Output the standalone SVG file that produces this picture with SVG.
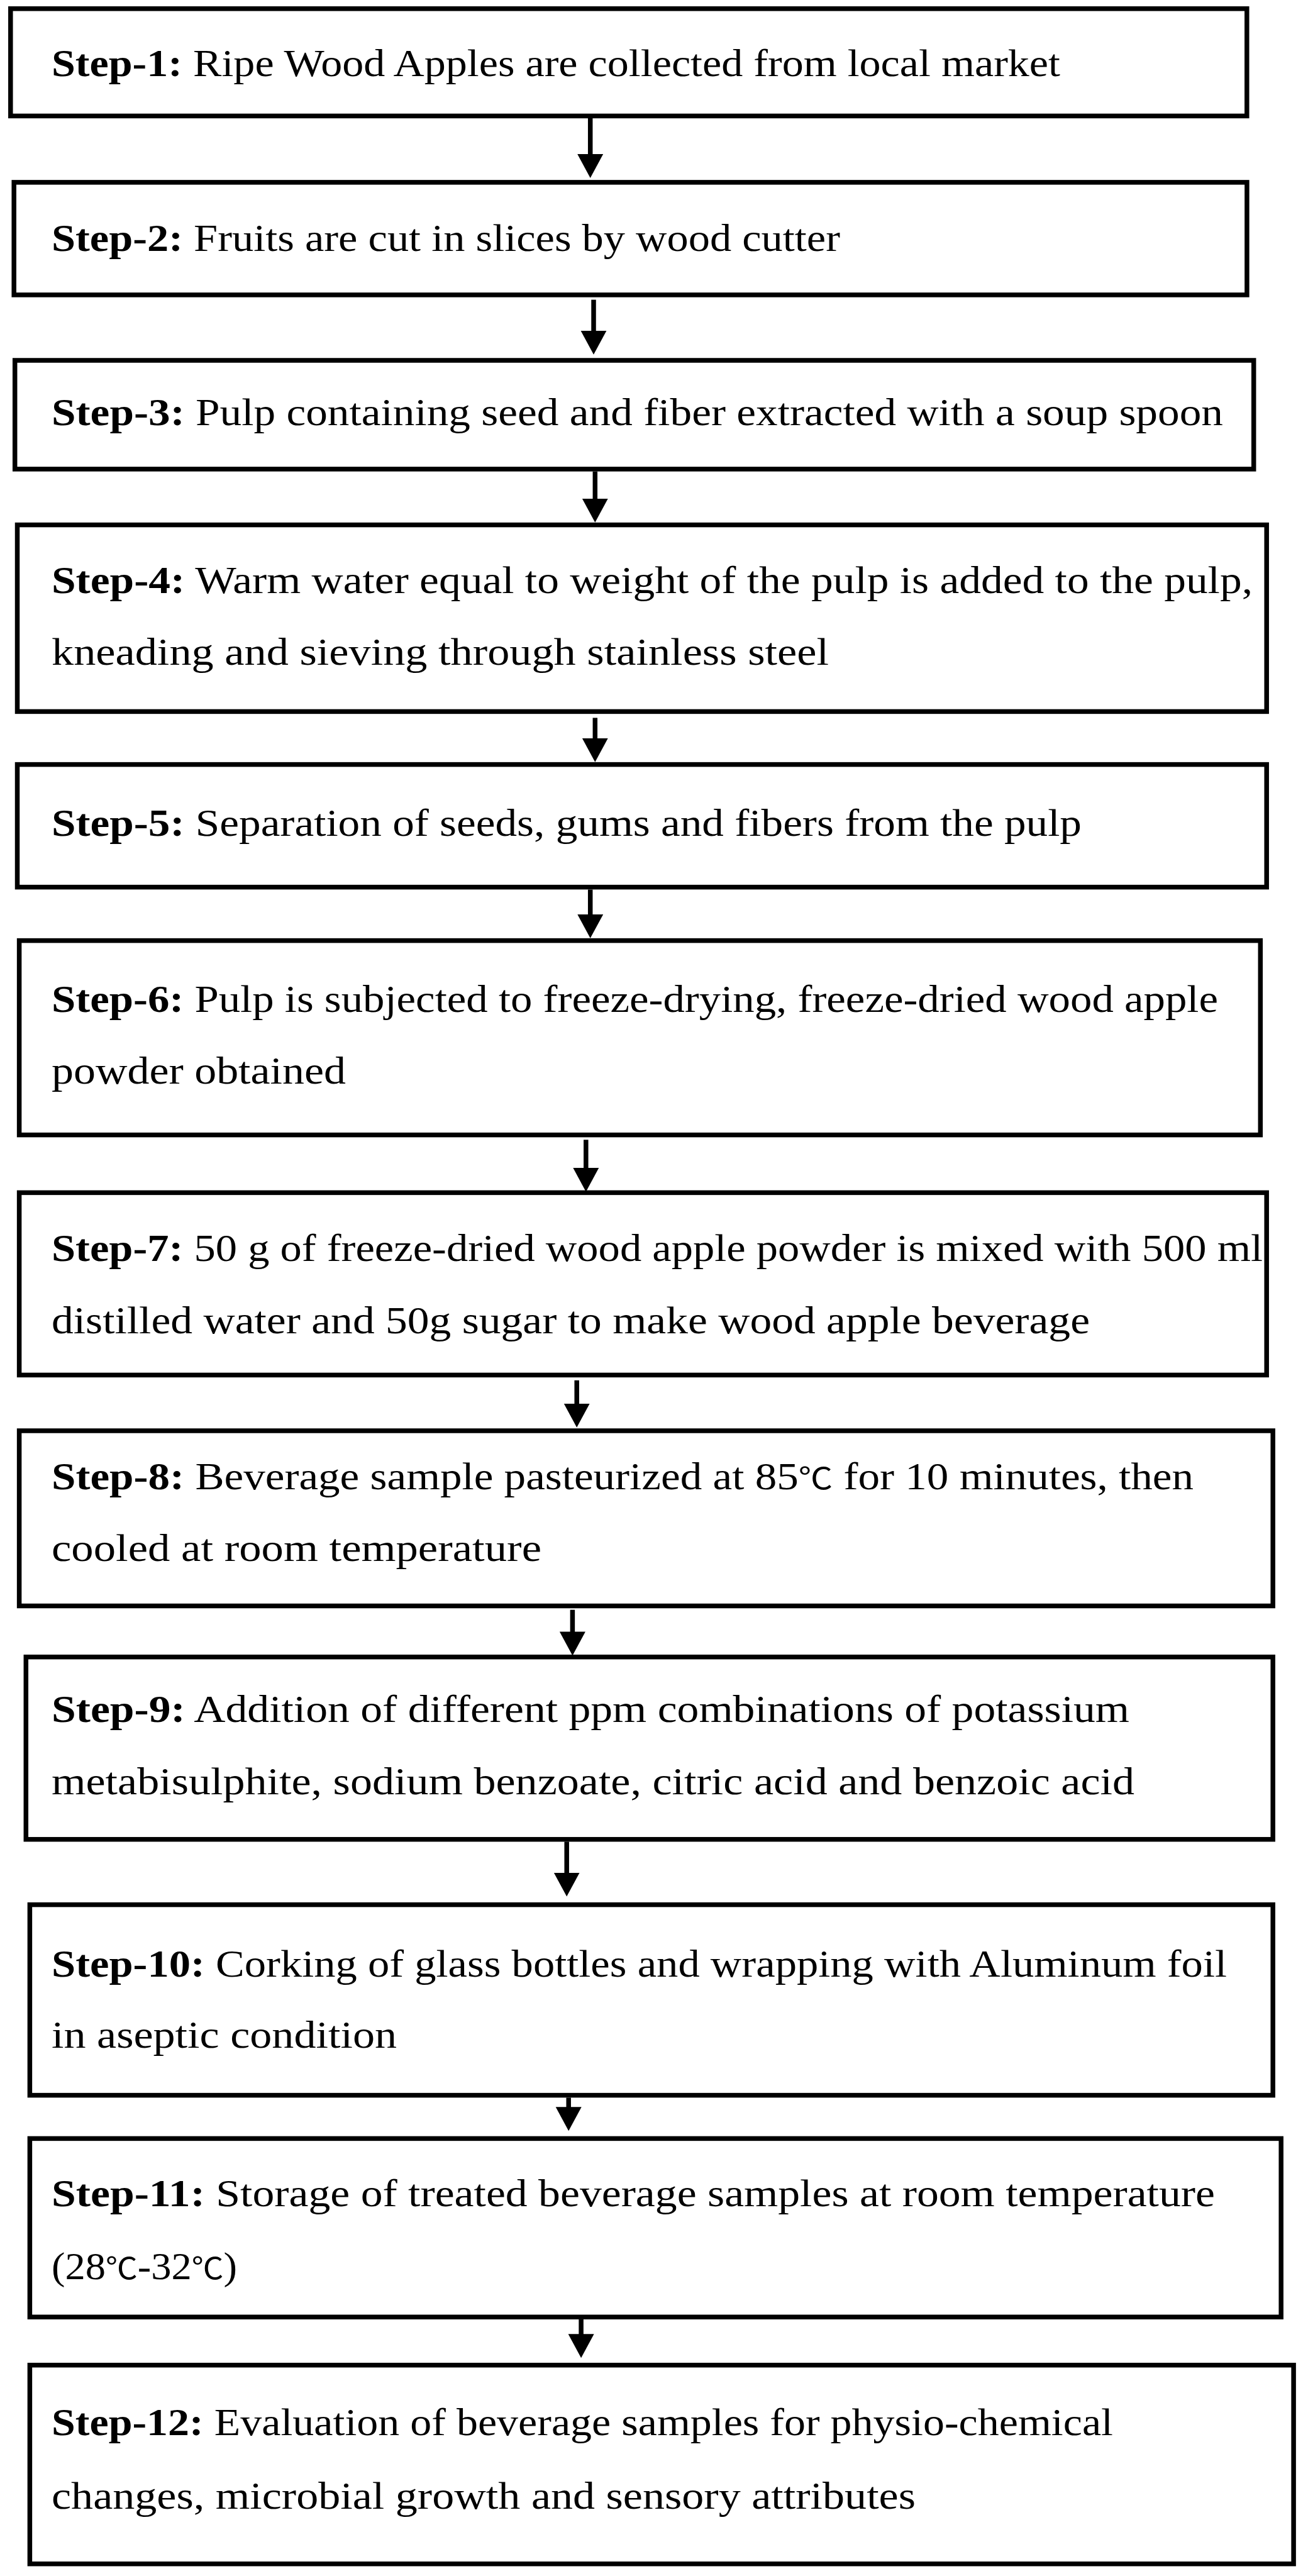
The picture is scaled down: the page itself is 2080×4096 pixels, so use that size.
<svg xmlns="http://www.w3.org/2000/svg" width="2080" height="4096" viewBox="0 0 2080 4096">
<style>
.box{fill:#fff;stroke:#000;stroke-width:7.5}
.t{font-family:"Liberation Serif","DejaVu Serif","Noto Sans CJK SC",serif;font-size:61px;fill:#000}
.b{font-weight:bold}
.deg{font-family:"Noto Sans CJK SC","DejaVu Sans",sans-serif;font-size:48px}
.c{stroke:#000;stroke-width:7.5;fill:none}
</style>
<defs>
<marker id="ah" markerUnits="userSpaceOnUse" markerWidth="40" markerHeight="42" refX="18" refY="20.5" orient="auto">
<path d="M0,0 L38,20.5 L0,41 z" fill="#000"/>
</marker>
</defs>
<rect width="2080" height="4096" fill="#fff"/>
<g id="connectors">
<line class="c" x1="938.7" y1="187.4" x2="938.7" y2="263" marker-end="url(#ah)"/>
<line class="c" x1="944" y1="476.6" x2="944" y2="543.8" marker-end="url(#ah)"/>
<line class="c" x1="946.3" y1="749.7" x2="946.3" y2="810.8" marker-end="url(#ah)"/>
<line class="c" x1="946.3" y1="1141.4" x2="946.3" y2="1191.8" marker-end="url(#ah)"/>
<line class="c" x1="938.7" y1="1414.5" x2="938.7" y2="1471.8" marker-end="url(#ah)"/>
<line class="c" x1="931.8" y1="1812.3" x2="931.8" y2="1874.9" marker-end="url(#ah)"/>
<line class="c" x1="917.2" y1="2194.8" x2="917.2" y2="2249.8" marker-end="url(#ah)"/>
<line class="c" x1="910.4" y1="2559.7" x2="910.4" y2="2612.4" marker-end="url(#ah)"/>
<line class="c" x1="901.2" y1="2928.4" x2="901.2" y2="2995.6" marker-end="url(#ah)"/>
<line class="c" x1="904.2" y1="3335.4" x2="904.2" y2="3368.2" marker-end="url(#ah)"/>
<line class="c" x1="924.1" y1="3688" x2="924.1" y2="3729.3" marker-end="url(#ah)"/>
</g>
<g id="step1">
<rect class="box" x="16.8" y="13.8" width="1966" height="170.6"/>
<text class="t" x="82" y="120.9" textLength="1604" lengthAdjust="spacingAndGlyphs"><tspan class="b">Step-1:</tspan> Ripe Wood Apples are collected from local market</text>
</g>
<g id="step2">
<rect class="box" x="22.2" y="289.9" width="1960.7" height="179"/>
<text class="t" x="82" y="399.3" textLength="1254" lengthAdjust="spacingAndGlyphs"><tspan class="b">Step-2:</tspan> Fruits are cut in slices by wood cutter</text>
</g>
<g id="step3">
<rect class="box" x="23.7" y="573" width="1970" height="172.9"/>
<text class="t" x="82" y="676.3" textLength="1863" lengthAdjust="spacingAndGlyphs"><tspan class="b">Step-3:</tspan> Pulp containing seed and fiber extracted with a soup spoon</text>
</g>
<g id="step4">
<rect class="box" x="27.5" y="834.6" width="1986.7" height="296.8"/>
<text class="t" x="82" y="942.5" textLength="1910" lengthAdjust="spacingAndGlyphs"><tspan class="b">Step-4:</tspan> Warm water equal to weight of the pulp is added to the pulp,</text>
<text class="t" x="82" y="1056.5" textLength="1236" lengthAdjust="spacingAndGlyphs">kneading and sieving through stainless steel</text>
</g>
<g id="step5">
<rect class="box" x="27.5" y="1215.6" width="1986.7" height="195"/>
<text class="t" x="82" y="1328.8" textLength="1638" lengthAdjust="spacingAndGlyphs"><tspan class="b">Step-5:</tspan> Separation of seeds, gums and fibers from the pulp</text>
</g>
<g id="step6">
<rect class="box" x="30.6" y="1495.6" width="1973.7" height="309"/>
<text class="t" x="82" y="1608.8" textLength="1855" lengthAdjust="spacingAndGlyphs"><tspan class="b">Step-6:</tspan> Pulp is subjected to freeze-drying, freeze-dried wood apple</text>
<text class="t" x="82" y="1722.8" textLength="468" lengthAdjust="spacingAndGlyphs">powder obtained</text>
</g>
<g id="step7">
<rect class="box" x="30.6" y="1896.4" width="1983.6" height="290"/>
<text class="t" x="82" y="2005" textLength="1926" lengthAdjust="spacingAndGlyphs"><tspan class="b">Step-7:</tspan> 50 g of freeze-dried wood apple powder is mixed with 500 ml</text>
<text class="t" x="82" y="2119.8" textLength="1651" lengthAdjust="spacingAndGlyphs">distilled water and 50g sugar to make wood apple beverage</text>
</g>
<g id="step8">
<rect class="box" x="30.6" y="2275" width="1993.6" height="278.5"/>
<text class="t" x="82" y="2367.7" textLength="1816" lengthAdjust="spacingAndGlyphs"><tspan class="b">Step-8:</tspan> Beverage sample pasteurized at 85<tspan class="deg">℃</tspan> for 10 minutes, then</text>
<text class="t" x="82" y="2481.7" textLength="779" lengthAdjust="spacingAndGlyphs">cooled at room temperature</text>
</g>
<g id="step9">
<rect class="box" x="41.3" y="2634.7" width="1982.9" height="290"/>
<text class="t" x="82" y="2737.9" textLength="1714" lengthAdjust="spacingAndGlyphs"><tspan class="b">Step-9:</tspan> Addition of different ppm combinations of potassium</text>
<text class="t" x="82" y="2852.7" textLength="1722" lengthAdjust="spacingAndGlyphs">metabisulphite, sodium benzoate, citric acid and benzoic acid</text>
</g>
<g id="step10">
<rect class="box" x="47.4" y="3028.6" width="1976.8" height="303"/>
<text class="t" x="82" y="3142.6" textLength="1869" lengthAdjust="spacingAndGlyphs"><tspan class="b">Step-10:</tspan> Corking of glass bottles and wrapping with Aluminum foil</text>
<text class="t" x="82" y="3255.8" textLength="549" lengthAdjust="spacingAndGlyphs">in aseptic condition</text>
</g>
<g id="step11">
<rect class="box" x="47.4" y="3400.4" width="1989.8" height="283.8"/>
<text class="t" x="82" y="3507.5" textLength="1850" lengthAdjust="spacingAndGlyphs"><tspan class="b">Step-11:</tspan> Storage of treated beverage samples at room temperature</text>
<text class="t" x="82" y="3623.8" textLength="295" lengthAdjust="spacingAndGlyphs">(28<tspan class="deg">℃</tspan>-32<tspan class="deg">℃</tspan>)</text>
</g>
<g id="step12">
<rect class="box" x="47.4" y="3760.7" width="2009.7" height="316"/>
<text class="t" x="82" y="3871.7" textLength="1688" lengthAdjust="spacingAndGlyphs"><tspan class="b">Step-12:</tspan> Evaluation of beverage samples for physio-chemical</text>
<text class="t" x="82" y="3988.7" textLength="1374" lengthAdjust="spacingAndGlyphs">changes, microbial growth and sensory attributes</text>
</g>
</svg>
